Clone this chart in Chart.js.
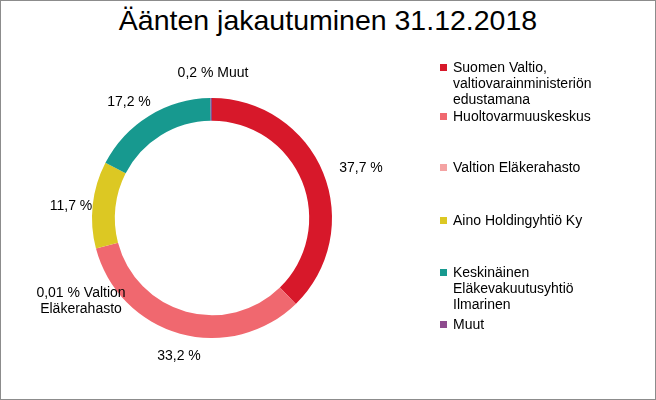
<!DOCTYPE html><html><head><meta charset="utf-8">
<script src="https://cdn.jsdelivr.net/npm/chart.js@4"></script>
<style>
body{margin:0;background:#fff;font-family:"Liberation Sans",Arial,sans-serif}
#wrap{position:relative;width:654px;height:398px;border:1px solid #8c8c8c}
#title{position:absolute;left:0;width:654px;top:3px;text-align:center;font-size:28.5px;color:#000}
canvas{position:absolute;left:0;top:0}
.lg{position:absolute;left:440px;font-size:14px;line-height:16px;color:#000}
.lg i{position:absolute;left:-1px;top:5px;width:7px;height:7px}
.lg span{display:block;margin-left:12px}
</style></head><body>
<div id="wrap"><div id="title">Äänten jakautuminen 31.12.2018</div>
<canvas id="c" width="654" height="398"></canvas></div>
<script>
const categories=["Suomen Valtio, valtiovarainministeriön edustamana","Huoltovarmuuskeskus","Valtion Eläkerahasto","Aino Holdingyhtiö Ky","Keskinäinen Eläkevakuutusyhtiö Ilmarinen","Muut"];
const legendLines=[["Suomen Valtio,","valtiovarainministeriön","edustamana"],["Huoltovarmuuskeskus"],["Valtion Eläkerahasto"],["Aino Holdingyhtiö Ky"],["Keskinäinen","Eläkevakuutusyhtiö","Ilmarinen"],["Muut"]];
const values=[37.7,33.2,0.01,11.7,17.2,0.2];
const dataLabels=[["37,7 %"],["33,2 %"],["0,01 % Valtion","Eläkerahasto"],["11,7 %"],["17,2 %"],["0,2 % Muut"]];
const colors=["#D7182A","#F0686F","#F4A3A3","#DCC823","#17998F","#8E4B8E"];
const legendTop=[58,107,158,211,263,315];
const labelPos=[[360,167],[178,355],[80,300],[70,205],[128,101],[212,72]];
const wrap=document.getElementById('wrap');
legendLines.forEach((ls,i)=>{const d=document.createElement('div');d.className='lg';d.style.top=legendTop[i]+'px';
d.innerHTML='<i style="background:'+colors[i]+'"></i><span>'+ls.join('<br>')+'</span>';wrap.appendChild(d);});
const labelPlugin={id:'lbl',afterDatasetsDraw(chart){const ctx=chart.ctx;const arcs=chart.getDatasetMeta(0).data;
ctx.save();ctx.font='14px "Liberation Sans",Arial';ctx.fillStyle='#000';ctx.textAlign='center';ctx.textBaseline='middle';
arcs.forEach((a,i)=>{const p=labelPos[i];const ls=dataLabels[i];ls.forEach((t,k)=>ctx.fillText(t,p[0],p[1]+(k-(ls.length-1)/2)*16));});ctx.restore();}};
new Chart(document.getElementById('c'),{type:'doughnut',data:{labels:categories,datasets:[{data:values,backgroundColor:colors,borderWidth:0}]},
options:{responsive:false,animation:false,cutout:'81%',layout:{padding:{left:91,right:323,top:97,bottom:61}},
plugins:{legend:{display:false},tooltip:{enabled:false}}},plugins:[labelPlugin]});
</script></body></html>
